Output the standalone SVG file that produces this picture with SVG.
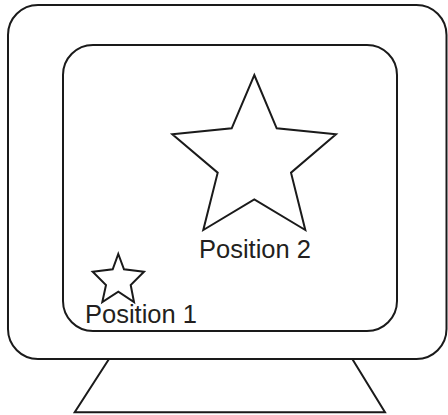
<svg xmlns="http://www.w3.org/2000/svg" width="448" height="415" viewBox="0 0 448 415">
<style>
.s{fill:none;stroke:#1a1a1a;stroke-width:2;stroke-linejoin:miter}
.t{font-family:"Liberation Sans",Arial,sans-serif;font-size:25.5px;fill:#231f20}
</style>
<rect width="448" height="415" fill="#fff"/>
<g id="monitor">
<rect class="s" x="8" y="5" width="438.5" height="354" rx="30" ry="30"/>
<polyline class="s" points="109,359 74.7,412.3 385,412.3 352.3,359"/>
</g>
<g id="screen">
<rect class="s" x="63" y="45" width="334" height="286" rx="30" ry="30"/>
</g>
<g id="star2">
<polygon class="s" points="254.3,75 276.7,128.3 336,134.3 291,172.7 305.3,230 254.3,199.3 203.3,230 217.7,172.7 172.3,134.3 231.7,128.3"/>
<text class="t" x="199" y="258.3">Position 2</text>
</g>
<g id="star1">
<polygon class="s" points="118.3,254 124,269.3 144,271.7 130.7,285 134,302 118.3,291.7 102.3,302 106,285 92.7,271.7 112.7,269.3"/>
<text class="t" x="85" y="323.3">Position 1</text>
</g>
<g id="connectors"/>
</svg>
